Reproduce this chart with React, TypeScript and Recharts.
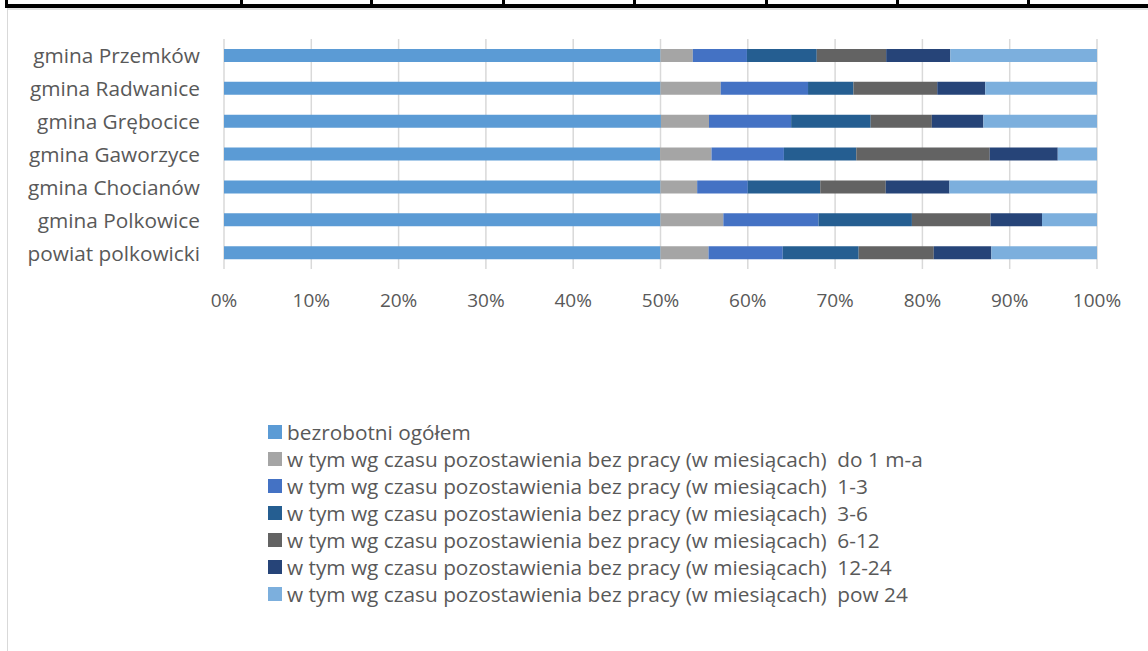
import React from "react";
import { BarChart, Bar, XAxis, YAxis, CartesianGrid, Legend } from "recharts";

const categories = [
  "gmina Przemków",
  "gmina Radwanice",
  "gmina Grębocice",
  "gmina Gaworzyce",
  "gmina Chocianów",
  "gmina Polkowice",
  "powiat polkowicki",
];

// shares (each row: ogółem = half of the bar)
const ogolem = [50, 50, 50, 50, 50, 50, 50];
const do1 = [3.7, 6.9, 5.5, 5.9, 4.2, 7.2, 5.5];
const m1_3 = [6.2, 10.0, 9.4, 8.3, 5.8, 10.9, 8.5];
const m3_6 = [8.0, 5.2, 9.1, 8.3, 8.3, 10.7, 8.7];
const m6_12 = [7.95, 9.6, 7.0, 15.3, 7.5, 9.0, 8.6];
const m12_24 = [7.35, 5.5, 5.9, 7.8, 7.3, 5.9, 6.6];
const pow24 = [16.8, 12.8, 13.0, 4.5, 16.9, 6.3, 12.1];

const xTicks = [0, 0.1, 0.2, 0.3, 0.4, 0.5, 0.6, 0.7, 0.8, 0.9, 1];

const prefix = "w tym wg czasu pozostawienia bez pracy (w miesiącach)  ";

const series = [
  { key: "ogolem", name: "bezrobotni ogółem", color: "#5B9BD5", values: ogolem },
  { key: "do1", name: prefix + "do 1 m-a", color: "#A5A5A5", values: do1 },
  { key: "m1_3", name: prefix + "1-3", color: "#4472C4", values: m1_3 },
  { key: "m3_6", name: prefix + "3-6", color: "#255E91", values: m3_6 },
  { key: "m6_12", name: prefix + "6-12", color: "#636363", values: m6_12 },
  { key: "m12_24", name: prefix + "12-24", color: "#264478", values: m12_24 },
  { key: "pow24", name: prefix + "pow 24", color: "#7CAFDD", values: pow24 },
];

const data = categories.map((name, i) => {
  const row: Record<string, string | number> = { name };
  series.forEach((s) => {
    row[s.key] = s.values[i];
  });
  return row;
});

const FONT = "'Open Sans', sans-serif";
const TEXT = "#595959";
const dividers = [5, 240, 370, 502, 633, 765, 896, 1027];

function CategoryTick(props: any) {
  const { y, payload } = props;
  return (
    <text x={200} y={y} textAnchor="end" dominantBaseline="central" fill={TEXT} fontSize={20.8} fontFamily={FONT}>
      {payload.value}
    </text>
  );
}

function PercentTick(props: any) {
  const { x, payload } = props;
  return (
    <text x={x} y={300} textAnchor="middle" dominantBaseline="central" fill={TEXT} fontSize={19} fontFamily={FONT}>
      {Math.round(payload.value * 100) + "%"}
    </text>
  );
}

function LegendList() {
  return (
    <div style={{ fontFamily: FONT, fontSize: 20.8, color: TEXT }}>
      {series.map((s) => (
        <div key={s.key} style={{ display: "flex", alignItems: "center", height: 27, whiteSpace: "pre" }}>
          <span style={{ width: 14, height: 14, background: s.color, marginRight: 5, display: "inline-block", flexShrink: 0 }} />
          <span>{s.name}</span>
        </div>
      ))}
    </div>
  );
}

export default function App() {
  return (
    <div style={{ position: "absolute", left: 0, top: 0, width: 1148, height: 651, background: "#fff", overflow: "hidden" }}>
      {/* table border above the chart */}
      <div style={{ position: "absolute", left: 5, top: 4, width: 1143, height: 4, background: "#000" }} />
      {dividers.map((x) => (
        <div key={x} style={{ position: "absolute", left: x, top: 0, width: 3, height: 8, background: "#000" }} />
      ))}
      <div style={{ position: "absolute", left: 7, top: 8, width: 1141, height: 2, background: "#e3e3e3" }} />
      <div style={{ position: "absolute", left: 7, top: 8, width: 1, height: 643, background: "#d9d9d9" }} />

      <div style={{ position: "absolute", left: 0, top: 0 }}>
        <BarChart
          width={1148}
          height={651}
          data={data}
          layout="vertical"
          stackOffset="expand"
          barSize={13}
          margin={{ top: 39, right: 51, bottom: 0, left: 0 }}
        >
          <CartesianGrid horizontal={false} stroke="#D9D9D9" strokeWidth={1.5} />
          <XAxis
            type="number"
            domain={[0, 1]}
            ticks={xTicks}
            height={382}
            axisLine={false}
            tickLine={false}
            tick={<PercentTick />}
            interval={0}
          />
          <YAxis
            type="category"
            dataKey="name"
            width={224}
            axisLine={false}
            tickLine={false}
            tick={<CategoryTick />}
            interval={0}
          />
          <Legend
            layout="horizontal"
            verticalAlign="middle"
            align="center"
            content={() => <LegendList />}
            wrapperStyle={{ left: 268, top: 418, width: "auto" }}
          />
          {series.map((s) => (
            <Bar key={s.key} dataKey={s.key} name={s.name} stackId="a" fill={s.color} isAnimationActive={false} />
          ))}
        </BarChart>
      </div>
    </div>
  );
}
